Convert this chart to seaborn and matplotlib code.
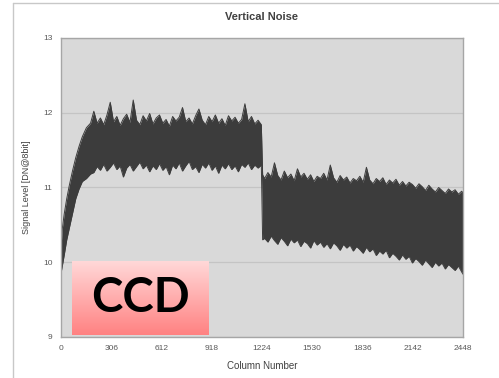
import numpy as np
import pandas as pd
import seaborn as sns
import matplotlib
matplotlib.use("Agg")
import matplotlib.pyplot as plt
from matplotlib.lines import Line2D

# envelope of the noise band
# subida inicial
colunas_subida = [0, 8, 20, 35, 50, 70, 90, 110, 130, 155, 180]
superior_subida = [10.20, 10.45, 10.65, 10.85, 11.02, 11.22, 11.40, 11.55, 11.68, 11.80, 11.86]
inferior_subida = [9.85, 9.95, 10.10, 10.30, 10.45, 10.65, 10.85, 10.98, 11.08, 11.12, 11.18]

# patamar esquerdo (colunas 200..1200 a cada 20) + 1220
colunas_esq = list(range(200, 1201, 20)) + [1220]
superior_esq = [12.02, 11.86, 11.93, 11.84, 11.97, 12.14, 11.88, 11.95, 11.83, 11.92,
                11.98, 11.87, 12.17, 11.90, 11.84, 11.96, 11.89, 11.99, 11.85, 11.93,
                11.97, 11.86, 11.91, 11.82, 11.95, 11.89, 11.94, 12.07, 11.88, 11.93,
                11.85, 11.96, 12.05, 11.90, 11.84, 11.95, 11.88, 11.97, 11.86, 11.92,
                11.83, 11.96, 11.89, 11.94, 11.86, 11.91, 12.12, 11.88, 11.95, 11.85,
                11.90, 11.84]
inferior_esq = [11.20, 11.28, 11.23, 11.31, 11.22, 11.27, 11.33, 11.24, 11.29, 11.14,
                11.26, 11.31, 11.22, 11.28, 11.34, 11.25, 11.30, 11.21, 11.29, 11.24,
                11.32, 11.23, 11.28, 11.17, 11.30, 11.25, 11.33, 11.22, 11.29, 11.35,
                11.24, 11.28, 11.20, 11.31, 11.26, 11.33, 11.23, 11.29, 11.19, 11.30,
                11.25, 11.32, 11.24, 11.29, 11.21, 11.31, 11.27, 11.33, 11.24, 11.30,
                11.26, 11.30]

# patamar direito, depois da queda em 1224
colunas_dir = [1228] + list(range(1240, 2441, 20)) + [2448]
superior_dir = [11.17,
                11.12, 11.20, 11.14, 11.33, 11.16, 11.10, 11.22, 11.13, 11.18, 11.09,
                11.25, 11.14, 11.19, 11.11, 11.17, 11.08, 11.15, 11.12, 11.19, 11.10,
                11.30, 11.13, 11.07, 11.16, 11.10, 11.14, 11.06, 11.12, 11.09, 11.15,
                11.07, 11.27, 11.10, 11.05, 11.12, 11.08, 11.13, 11.04, 11.10, 11.06,
                11.11, 11.03, 11.08, 11.02, 11.07, 11.04, 10.99, 11.05, 11.01, 10.96,
                11.03, 10.98, 10.94, 11.00, 10.96, 10.92, 10.98, 10.94, 10.97, 10.91,
                10.95,
                10.93]
inferior_dir = [10.30,
                10.32, 10.27, 10.35, 10.29, 10.24, 10.33, 10.28, 10.22, 10.31, 10.26,
                10.30, 10.21, 10.28, 10.25, 10.19, 10.29, 10.23, 10.27, 10.20, 10.25,
                10.18, 10.26, 10.22, 10.16, 10.24, 10.19, 10.23, 10.15, 10.21, 10.17,
                10.12, 10.20, 10.14, 10.18, 10.09, 10.15, 10.11, 10.16, 10.06, 10.12,
                10.08, 10.03, 10.10, 10.04, 10.08, 9.99, 10.05, 10.01, 9.96, 10.03,
                9.98, 9.93, 10.00, 9.95, 9.99, 9.91, 9.97, 9.93, 9.89, 9.95,
                9.87,
                9.84]

xticks = [0, 306, 612, 918, 1224, 1530, 1836, 2142, 2448]
yticks = [9, 10, 11, 12, 13]

dados = pd.DataFrame({'Coluna': colunas_subida + colunas_esq + colunas_dir,
                      'Superior': superior_subida + superior_esq + superior_dir,
                      'Inferior': inferior_subida + inferior_esq + inferior_dir})

sns.set_style("white")
plt.rcParams['font.family'] = ['Liberation Sans', 'DejaVu Sans']

fig = plt.figure(figsize=(4.99, 3.78), dpi=100)
ax = fig.add_axes([0.1222, 0.1085, 0.8056, 0.791])
ax.set_facecolor('#d9d9d9')

ax.fill_between(dados['Coluna'], dados['Inferior'], dados['Superior'], color='#3c3c3c', lw=0)
sns.lineplot(x='Coluna', y='Superior', data=dados, color='#3c3c3c', lw=0.7, ax=ax)
sns.lineplot(x='Coluna', y='Inferior', data=dados, color='#3c3c3c', lw=0.7, ax=ax)

ax.set_xlim(0, 2448)
ax.set_ylim(9, 13)
ax.set_xticks(xticks)
ax.set_yticks(yticks)
ax.yaxis.grid(True, color='#c4c4c4', lw=0.9)
ax.set_axisbelow(True)
ax.tick_params(length=0, labelsize=6, colors='#595959', pad=6)
for s in ax.spines.values():
    s.set_color('#a6a6a6')
    s.set_linewidth(1)

ax.set_xlabel('Column Number', fontsize=7, color='#404040', labelpad=6)
ax.set_ylabel('Signal Level [DN@8bit]', fontsize=6.5, color='#404040', labelpad=9)
fig.text(0.525, 0.955, 'Vertical Noise', ha='center', va='center',
         fontsize=8, fontweight='bold', color='#404040')

# moldura externa
fig.add_artist(Line2D([0.026, 0.026], [0.0, 0.992], color='#c8c8c8', lw=1))
fig.add_artist(Line2D([0.026, 1.0], [0.992, 0.992], color='#c8c8c8', lw=1))

# caixa CCD com gradiente
caixa = fig.add_axes([0.1443, 0.1138, 0.2745, 0.1958])
grad = np.linspace(0, 1, 100).reshape(-1, 1)
cores = matplotlib.colors.LinearSegmentedColormap.from_list('rosa', ['#ffd9d9', '#ff8282'])
caixa.imshow(grad, aspect='auto', cmap=cores, extent=[0, 1, 0, 1], origin='upper')
caixa.set_axis_off()
caixa.text(0.5, 0.5, 'CCD', ha='center', va='center', fontsize=34,
           fontweight='bold', color='black', family=['Lato', 'DejaVu Sans'],
           transform=caixa.transAxes)

plt.savefig('out.png', dpi=100)
